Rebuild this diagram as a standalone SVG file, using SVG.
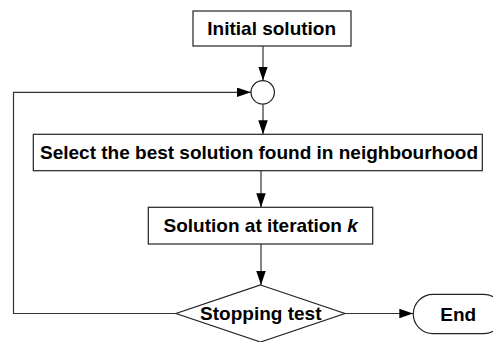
<svg xmlns="http://www.w3.org/2000/svg" width="493" height="342" viewBox="0 0 493 342">
<defs>
<marker id="arr" markerUnits="userSpaceOnUse" markerWidth="14" markerHeight="10" refX="14" refY="4.75" orient="auto">
<path d="M0,0 L14,4.75 L0,9.5 z" fill="#000"/>
</marker>
<style>
.shape{fill:#fff;stroke:#222;stroke-width:1.2}
.conn{fill:none;stroke:#333;stroke-width:1.2}
.lbl{font-family:"Liberation Sans",Arial,sans-serif;font-weight:bold;font-size:19px;text-anchor:middle;fill:#000}
</style>
</defs>
<g id="connectors">
<path class="conn" d="M263,46 L263,80.6" marker-end="url(#arr)"/>
<path class="conn" d="M263,104 L263,134.3" marker-end="url(#arr)"/>
<path class="conn" d="M261,170.7 L261,207.3" marker-end="url(#arr)"/>
<path class="conn" d="M261,244 L261,285" marker-end="url(#arr)"/>
<path class="conn" d="M345,313.5 L413.3,313.5" marker-end="url(#arr)"/>
<path class="conn" d="M176,313.5 L13.5,313.5 L13.5,92.3 L251,92.3" marker-end="url(#arr)"/>
</g>
<g id="initial">
<rect class="shape" x="193" y="11" width="158" height="35"/>
<text class="lbl" x="271.7" y="35.2">Initial solution</text>
</g>
<g id="junction">
<circle class="shape" cx="262.7" cy="92.3" r="11.7"/>
</g>
<g id="select">
<rect class="shape" x="33.3" y="134.3" width="449" height="36.4"/>
<text class="lbl" x="259" y="159">Select the best solution found in neighbourhood</text>
</g>
<g id="solution">
<rect class="shape" x="148.3" y="207.3" width="224.4" height="36.7"/>
<text class="lbl" x="260.7" y="232.3">Solution at iteration <tspan font-style="italic">k</tspan></text>
</g>
<g id="stopping">
<polygon class="shape" points="260.5,285 345,313.5 260.5,342 176,313.5"/>
<text class="lbl" x="260.8" y="320">Stopping test</text>
</g>
<g id="end">
<rect class="shape" x="413.3" y="294.3" width="90" height="39.4" rx="19.7" ry="19.7"/>
<text class="lbl" x="458.3" y="320.5">End</text>
</g>
</svg>
